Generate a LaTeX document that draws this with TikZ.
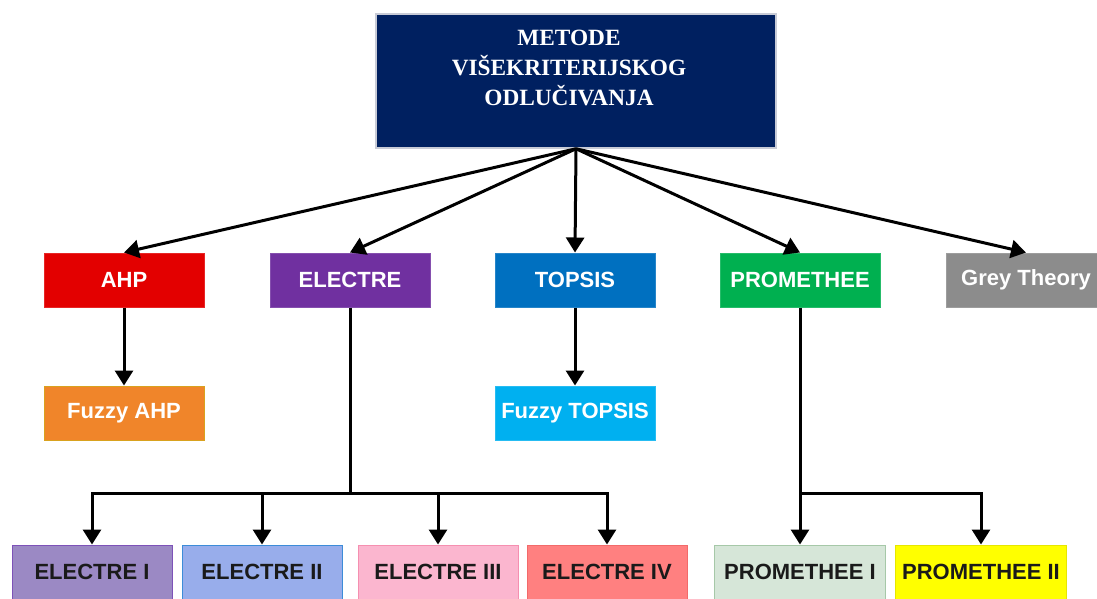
\documentclass[tikz,border=0pt]{standalone}
\usepackage{fontspec}
\setmainfont{Liberation Serif}
\setsansfont{Liberation Sans}
\usetikzlibrary{arrows.meta}
\definecolor{navy}{HTML}{002060}
\definecolor{navyborder}{HTML}{C8CBD6}
\definecolor{ahpc}{HTML}{E30000}
\definecolor{electrec}{HTML}{7030A0}
\definecolor{topsisc}{HTML}{0070C0}
\definecolor{promc}{HTML}{00B050}
\definecolor{greyc}{HTML}{8C8C8C}
\definecolor{fahpc}{HTML}{F0852A}
\definecolor{fahpb}{HTML}{D9A21E}
\definecolor{ftopc}{HTML}{00B0F0}
\definecolor{eIc}{HTML}{9B89C4}
\definecolor{eIb}{HTML}{7D52B8}
\definecolor{eIIc}{HTML}{98ADEB}
\definecolor{eIIb}{HTML}{3C8CD8}
\definecolor{eIIIc}{HTML}{FBB6CF}
\definecolor{eIIIb}{HTML}{F58FB0}
\definecolor{eIVc}{HTML}{FF8080}
\definecolor{eIVb}{HTML}{F26A6A}
\definecolor{pIc}{HTML}{D6E6D8}
\definecolor{pIb}{HTML}{A6C8A8}
\definecolor{pIIc}{HTML}{FFFF00}
\definecolor{pIIb}{HTML}{E6E600}
\definecolor{darktext}{HTML}{1A1A1A}
\begin{document}
\begin{tikzpicture}[x=1pt,y=-1pt,
  box/.style={minimum width=160pt,minimum height=54pt,inner sep=0pt,line width=1pt,
    font=\sffamily\bfseries\fontsize{22}{24}\selectfont},
  lvtwo/.style={box,text=white},
  lvfour/.style={box,text=darktext},
  conn/.style={line width=3pt,black,line join=miter},
  arr/.style={conn,-{Triangle[width=18pt,length=15pt]}}]
\useasboundingbox (0,0) rectangle (1097,598);
\clip (0,0) rectangle (1097,598);
% title
\node[draw=navyborder,fill=navy,line width=1.5pt,minimum width=400pt,minimum height=134pt,inner sep=0pt] (top) at (576,81) {};
\node[text=white,align=center,font=\bfseries\fontsize{23.3}{30}\selectfont,inner sep=0pt] (toptext) at (569,68) {METODE\\VIŠEKRITERIJSKOG\\ODLUČIVANJA};
% level 2
\node[lvtwo,fill=ahpc,draw=ahpc!85!white] (ahp) at (124,280) {AHP};
\node[lvtwo,fill=electrec,draw=electrec!85!white] (electre) at (350,280) {ELECTRE};
\node[lvtwo,fill=topsisc,draw=topsisc!85!white] (topsis) at (575,280) {TOPSIS};
\node[lvtwo,fill=promc,draw=promc!85!white] (prom) at (800,280) {PROMETHEE};
\node[lvtwo,fill=greyc,draw=greyc!85!white] (grey) at (1026,280) {Grey Theory};
% level 3
\node[lvtwo,fill=fahpc,draw=fahpb] (fahp) at (124,413) {Fuzzy AHP};
\node[lvtwo,fill=ftopc,draw=ftopc!85!white] (ftop) at (575,413) {Fuzzy TOPSIS};
% level 4
\node[lvfour,fill=eIc,draw=eIb] (e1) at (92,572) {ELECTRE I};
\node[lvfour,fill=eIIc,draw=eIIb] (e2) at (262,572) {ELECTRE II};
\node[lvfour,fill=eIIIc,draw=eIIIb] (e3) at (438,572) {ELECTRE III};
\node[lvfour,fill=eIVc,draw=eIVb] (e4) at (607,572) {ELECTRE IV};
\node[lvfour,fill=pIc,draw=pIb,minimum width=171pt] (p1) at (800,572) {PROMETHEE I};
\node[lvfour,fill=pIIc,draw=pIIb,minimum width=171pt] (p2) at (981,572) {PROMETHEE II};
% connectors from title
\foreach \t in {ahp,electre,topsis,prom,grey}
  \draw[arr] (top.south) -- (\t.north);
\draw[arr] (ahp.south) -- (fahp.north);
\draw[arr] (topsis.south) -- (ftop.north);
% electre branch
\coordinate (ej) at (350,493);
\draw[conn] (electre.south) -- (ej);
\foreach \t in {e1,e2,e3,e4}
  \draw[arr] (ej) -| (\t.north);
% promethee branch
\coordinate (pj) at (800,493);
\draw[arr] (prom.south) -- (p1.north);
\draw[arr] (pj) -| (p2.north);
\end{tikzpicture}
\end{document}
